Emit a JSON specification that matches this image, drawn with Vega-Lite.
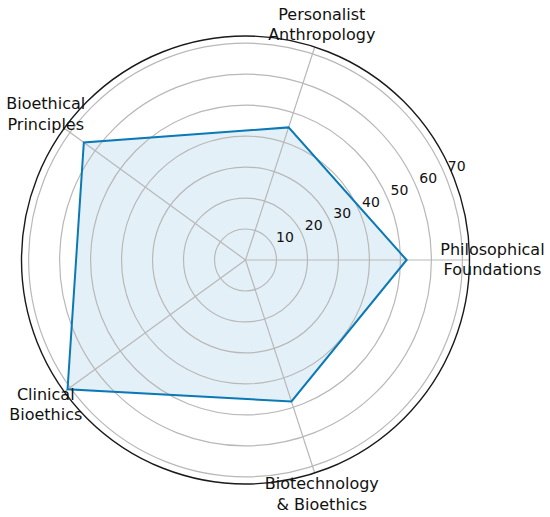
{
  "$schema": "https://vega.github.io/schema/vega-lite/v6.json",
  "autosize": "none",
  "width": 448,
  "height": 448,
  "padding": {"left": 21.5, "top": 36, "right": 80.5, "bottom": 33},
  "background": "white",
  "config": {"view": {"stroke": null}, "font": "DejaVu Sans"},
  "datasets": {
    "cats": [
      {"idx": 0, "category": "Philosophical\nFoundations", "value": 52},
      {"idx": 1, "category": "Personalist\nAnthropology", "value": 45},
      {"idx": 2, "category": "Bioethical\nPrinciples", "value": 64.5},
      {"idx": 3, "category": "Clinical\nBioethics", "value": 71},
      {"idx": 4, "category": "Biotechnology\n& Bioethics", "value": 48}
    ],
    "rings": [
      {"r": 10, "label": "10"},
      {"r": 20, "label": "20"},
      {"r": 30, "label": "30"},
      {"r": 40, "label": "40"},
      {"r": 50, "label": "50"},
      {"r": 60, "label": "60"},
      {"r": 70, "label": "70"}
    ],
    "outer": [{"r": 72.3}]
  },
  "layer": [
    {
      "data": {"name": "cats"},
      "transform": [
        {"calculate": "datum.idx * 2 * PI / 5", "as": "a"},
        {"calculate": "datum.value * cos(datum.a)", "as": "px"},
        {"calculate": "datum.value * sin(datum.a)", "as": "py"}
      ],
      "mark": {"type": "line", "interpolate": "linear-closed", "fill": "#0a79b5", "fillOpacity": 0.11, "strokeWidth": 0},
      "encoding": {
        "x": {"field": "px", "type": "quantitative", "scale": {"domain": [-72.3, 72.3], "nice": false, "zero": false}, "axis": null},
        "y": {"field": "py", "type": "quantitative", "scale": {"domain": [-72.3, 72.3], "nice": false, "zero": false}, "axis": null},
        "order": {"field": "idx", "type": "quantitative"}
      }
    },
    {
      "data": {"name": "rings"},
      "transform": [{"calculate": "0", "as": "px"}, {"calculate": "0", "as": "py"}],
      "mark": {"type": "arc", "theta": 0, "theta2": 6.2832, "filled": false, "fill": null, "stroke": "#b8b8b8", "strokeWidth": 1.2},
      "encoding": {
        "x": {"field": "px", "type": "quantitative"},
        "y": {"field": "py", "type": "quantitative"},
        "radius": {"field": "r", "type": "quantitative", "stack": null, "scale": {"type": "linear", "domain": [0, 72.3], "range": [0, 224], "zero": true}}
      }
    },
    {
      "data": {"name": "cats"},
      "transform": [
        {"calculate": "datum.idx * 2 * PI / 5", "as": "a"},
        {"calculate": "0", "as": "px"},
        {"calculate": "0", "as": "py"},
        {"calculate": "72.3 * cos(datum.a)", "as": "ex"},
        {"calculate": "72.3 * sin(datum.a)", "as": "ey"}
      ],
      "mark": {"type": "rule", "stroke": "#b8b8b8", "strokeWidth": 1.2},
      "encoding": {
        "x": {"field": "px", "type": "quantitative"},
        "y": {"field": "py", "type": "quantitative"},
        "x2": {"field": "ex"},
        "y2": {"field": "ey"}
      }
    },
    {
      "data": {"name": "outer"},
      "transform": [{"calculate": "0", "as": "px"}, {"calculate": "0", "as": "py"}],
      "mark": {"type": "arc", "theta": 0, "theta2": 6.2832, "filled": false, "fill": null, "stroke": "#1a1a1a", "strokeWidth": 1.4},
      "encoding": {
        "x": {"field": "px", "type": "quantitative"},
        "y": {"field": "py", "type": "quantitative"},
        "radius": {"field": "r", "type": "quantitative", "stack": null, "scale": {"type": "linear", "domain": [0, 72.3], "range": [0, 224], "zero": true}}
      }
    },
    {
      "data": {"name": "cats"},
      "transform": [
        {"calculate": "datum.idx * 2 * PI / 5", "as": "a"},
        {"calculate": "datum.value * cos(datum.a)", "as": "px"},
        {"calculate": "datum.value * sin(datum.a)", "as": "py"}
      ],
      "mark": {"type": "line", "interpolate": "linear-closed", "stroke": "#0a79b5", "strokeWidth": 2},
      "encoding": {
        "x": {"field": "px", "type": "quantitative"},
        "y": {"field": "py", "type": "quantitative"},
        "order": {"field": "idx", "type": "quantitative"}
      }
    },
    {
      "data": {"name": "cats"},
      "transform": [
        {"calculate": "datum.idx * 2 * PI / 5", "as": "a"},
        {"calculate": "79.7 * cos(datum.a)", "as": "px"},
        {"calculate": "79.7 * sin(datum.a)", "as": "py"}
      ],
      "mark": {"type": "text", "align": "center", "baseline": "middle", "dy": -10.5, "fontSize": 16, "lineHeight": 20.5, "lineBreak": "\n", "color": "#111111"},
      "encoding": {
        "x": {"field": "px", "type": "quantitative"},
        "y": {"field": "py", "type": "quantitative"},
        "text": {"field": "category", "type": "nominal"}
      }
    },
    {
      "data": {"name": "rings"},
      "transform": [
        {"calculate": "datum.r * cos(PI / 8)", "as": "px"},
        {"calculate": "datum.r * sin(PI / 8)", "as": "py"}
      ],
      "mark": {"type": "text", "align": "left", "baseline": "middle", "dx": 2, "dy": -10, "fontSize": 14, "color": "#111111"},
      "encoding": {
        "x": {"field": "px", "type": "quantitative"},
        "y": {"field": "py", "type": "quantitative"},
        "text": {"field": "label", "type": "nominal"}
      }
    }
  ]
}
